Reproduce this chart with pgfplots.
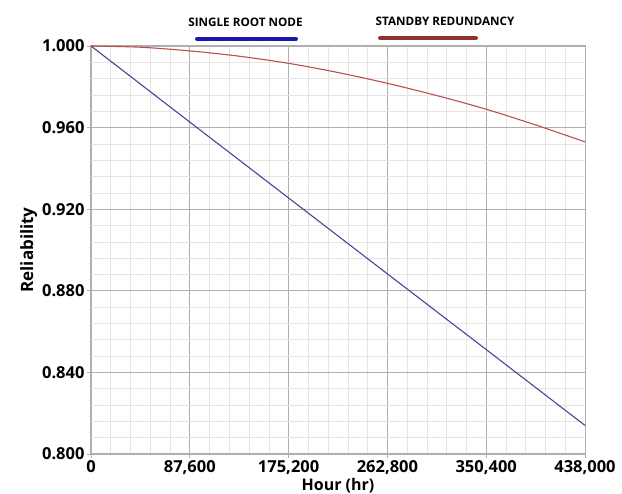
\documentclass[border=0pt]{standalone}
\usepackage{pgfplots}
\pgfplotsset{compat=1.18}
\usepackage{fontspec}
\setmainfont{Open Sans}
\definecolor{blueline}{RGB}{70,70,150}
\definecolor{redline}{RGB}{185,80,80}
\definecolor{bluebar}{RGB}{25,25,175}
\definecolor{redbar}{RGB}{145,50,50}
\definecolor{majgrid}{RGB}{175,175,175}
\definecolor{mingrid}{RGB}{228,228,228}
\begin{document}
\begin{tikzpicture}[x=1pt,y=1pt]
\useasboundingbox (-91,-40) rectangle (531,454);
\begin{axis}[
  at={(0,0)}, anchor=south west,
  scale only axis, width=494pt, height=408pt,
  xmin=0, xmax=438000, ymin=0.8, ymax=1.0,
  xtick={0,87600,175200,262800,350400,438000},
  ytick={0.80,0.84,0.88,0.92,0.96,1.00},
  minor x tick num=4, minor y tick num=4,
  grid=both,
  major grid style={majgrid, line width=0.8pt},
  minor grid style={mingrid, line width=0.6pt},
  axis line style={majgrid, line width=1pt},
  tick align=outside, major tick length=4pt, minor tick length=0pt,
  tick style={majgrid, line width=0.8pt},
  xtick pos=bottom, ytick pos=left,
  scaled ticks=false,
  /pgf/number format/assume math mode=true,
  x tick label style={/pgf/number format/fixed, /pgf/number format/precision=0, /pgf/number format/1000 sep={,}, yshift=1pt},
  y tick label style={/pgf/number format/fixed, /pgf/number format/fixed zerofill, /pgf/number format/precision=3, xshift=1pt},
  ticklabel style={font=\fontsize{16.5}{19}\selectfont\bfseries},
  xlabel={Hour (hr)}, ylabel={Reliability},
  xlabel style={font=\fontsize{16}{18}\selectfont\bfseries, yshift=3pt},
  ylabel style={font=\fontsize{17}{19}\selectfont\bfseries, yshift=-2pt},
  clip=false,
]
\addplot[blueline, line width=1.1pt] coordinates {
 (0,1.0) (87600,0.9627) (175200,0.9255) (262800,0.8883) (350400,0.8512) (438000,0.814)};
\addplot[redline, line width=1.1pt, smooth] coordinates {
 (0,1.0) (43800,0.9994) (87600,0.9976) (131400,0.9950) (175200,0.9915) (219000,0.9870)
 (262800,0.9817) (306600,0.9757) (350400,0.9690) (394200,0.9613) (438000,0.9530)};
\end{axis}
\node[font=\fontsize{11.7}{13}\selectfont\bfseries] at (154.5,432) {SINGLE ROOT NODE};
\draw[bluebar, line width=4pt, line cap=round] (106,415) -- (205,415);
\node[font=\fontsize{11.7}{13}\selectfont\bfseries] at (354,433) {STANDBY REDUNDANCY};
\draw[redbar, line width=4pt, line cap=round] (289,416) -- (385,416);
\end{tikzpicture}
\end{document}
